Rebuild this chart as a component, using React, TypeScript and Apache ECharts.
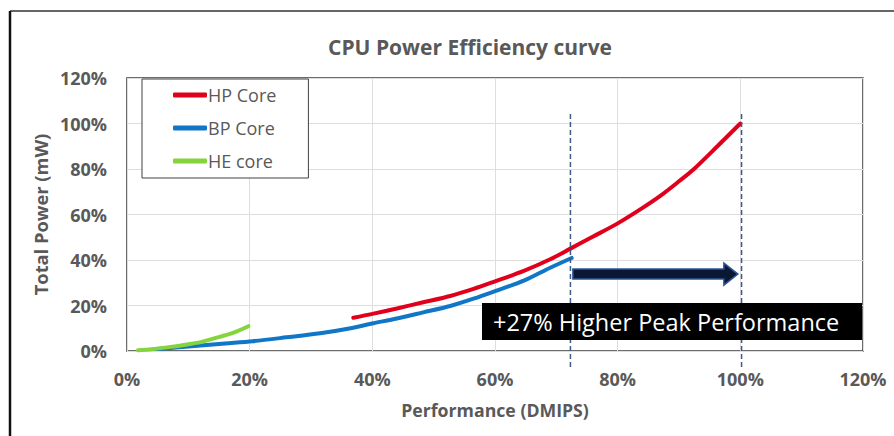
import React, { useEffect, useRef } from "react";
import * as echarts from "echarts";

const titleText = "CPU Power Efficiency curve";
const xTicks = { min: 0, max: 120, interval: 20 };
const yTicks = { min: 0, max: 120, interval: 20 };

const hpX = [36.9, 40, 44, 48.3, 52.7, 56.5, 60, 64.7, 69, 72.3, 76, 80, 84, 87, 90, 92.4, 96.3, 100];
const hpY = [14.6, 16.3, 18.7, 21.4, 24.2, 27.3, 30.6, 35.2, 40.3, 45.0, 50.3, 56.1, 62.8, 68.3, 74.6, 79.9, 90.1, 100];

const bpX = [5, 8, 12, 16, 20.5, 26, 31.5, 36, 40.2, 44, 48.3, 52.7, 56.5, 60, 64.7, 69, 72.5];
const bpY = [0.9, 1.5, 2.4, 3.3, 4.3, 6.0, 7.8, 9.8, 12.2, 14.3, 17.0, 19.8, 23.0, 26.3, 30.9, 36.6, 40.9];

const heX = [1.8, 4, 6.5, 9.8, 12, 15.2, 17.5, 19.8];
const heY = [0.3, 0.8, 1.6, 2.9, 3.9, 6.3, 8.2, 10.9];

const markerX = [72.3, 100.2];
const markerYRange = [-7, 104.6];

const arrowData = [[72.7, 99.6, 33.8]]; // x start, x tip, y
const calloutText = "+27% Higher Peak Performance";

const zip = (xs: number[], ys: number[]) => xs.map((x, i) => [x, ys[i]]);

export default function App() {
  const ref = useRef<HTMLDivElement>(null);
  useEffect(() => {
    if (!ref.current) return;
    const chart = echarts.init(ref.current, null, { renderer: "svg" });
    const gray = "#595959";
    const font = "'Open Sans', 'Noto Sans', sans-serif";
    const curve = (name: string, xs: number[], ys: number[], color: string) => ({
      name,
      type: "line",
      data: zip(xs, ys),
      smooth: 0.3,
      showSymbol: false,
      symbol: "none",
      lineStyle: { color, width: 4, cap: "round" },
      itemStyle: { color },
      z: 3,
    });
    const dashed = markerX.map((x, i) => ({
      name: "marker" + i,
      type: "line",
      data: [
        [x, markerYRange[0]],
        [x, markerYRange[1]],
      ],
      clip: false,
      symbol: "none",
      lineStyle: { color: "#3F5A86", width: 1.5, type: [5, 3] },
      z: 4,
      silent: true,
    }));
    chart.setOption({
      animation: false,
      backgroundColor: "#ffffff",
      title: {
        text: titleText,
        left: 465,
        top: 31,
        textAlign: "center",
        textStyle: { fontFamily: font, fontSize: 21, fontWeight: "bold", color: gray },
      },
      grid: {
        left: 127,
        right: 31,
        top: 78,
        bottom: 85,
        show: true,
        borderColor: "#3c3c3c",
        borderWidth: 1.5,
        backgroundColor: "transparent",
      },
      legend: {
        data: ["HP Core", "BP Core", "HE core"],
        orient: "vertical",
        left: 142,
        top: 79,
        padding: [6, 32, 7, 31],
        itemGap: 13,
        itemWidth: 34,
        itemHeight: 5,
        icon: "roundRect",
        backgroundColor: "#ffffff",
        borderColor: "#404040",
        borderWidth: 1,
        textStyle: { fontFamily: font, fontSize: 18, color: gray, lineHeight: 20, padding: [0, 0, 0, -4] },
      },
      xAxis: {
        type: "value",
        min: xTicks.min,
        max: xTicks.max,
        interval: xTicks.interval,
        name: "Performance (DMIPS)",
        nameLocation: "middle",
        nameGap: 50,
        nameTextStyle: { fontFamily: font, fontSize: 17.7, fontWeight: "bold", color: gray },
        axisLine: { show: false },
        axisTick: { show: false },
        axisLabel: { formatter: "{value}%", fontFamily: font, fontSize: 18, fontWeight: "bold", color: gray, margin: 19 },
        splitLine: { show: true, lineStyle: { color: "#dedede", width: 1 } },
      },
      yAxis: {
        type: "value",
        min: yTicks.min,
        max: yTicks.max,
        interval: yTicks.interval,
        name: "Total Power (mW)",
        nameLocation: "middle",
        nameGap: 74,
        nameTextStyle: { fontFamily: font, fontSize: 18.3, fontWeight: "bold", color: gray },
        axisLine: { show: false },
        axisTick: { show: false },
        axisLabel: { formatter: "{value}%", fontFamily: font, fontSize: 18, fontWeight: "bold", color: gray, margin: 20 },
        splitLine: { show: true, lineStyle: { color: "#dedede", width: 1 } },
      },
      series: [
        curve("HP Core", hpX, hpY, "#E0001B"),
        curve("BP Core", bpX, bpY, "#0F76C8"),
        curve("HE core", heX, heY, "#84D43E"),
        ...dashed,
        {
          name: "arrow",
          type: "custom",
          data: arrowData,
          clip: false,
          z: 5,
          silent: true,
          renderItem: (params: any, api: any) => {
            const p0 = api.coord([api.value(0), api.value(2)]);
            const p1 = api.coord([api.value(1), api.value(2)]);
            const half = 5;
            const headLen = 14;
            const headHalf = 11;
            const y = p0[1];
            const xb = p1[0] - headLen;
            return {
              type: "polygon",
              shape: {
                points: [
                  [p0[0], y - half],
                  [xb, y - half],
                  [xb, y - headHalf],
                  [p1[0], y],
                  [xb, y + headHalf],
                  [xb, y + half],
                  [p0[0], y + half],
                ],
              },
              style: { fill: "#0B1833", stroke: "#2E5597", lineWidth: 1.5 },
            };
          },
        },
      ],
      graphic: [
        { type: "line", shape: { x1: 10, y1: 11, x2: 894, y2: 11 }, style: { stroke: "#333", lineWidth: 1.5 }, z: 100 },
        { type: "line", shape: { x1: 10, y1: 11, x2: 10, y2: 436 }, style: { stroke: "#111", lineWidth: 2.5 }, z: 100 },
        {
          type: "group",
          left: 482,
          top: 303,
          z: 100,
          children: [
            { type: "rect", shape: { x: 0, y: 0, width: 380, height: 37 }, style: { fill: "#000000" }, z: 100 },
            {
              type: "text",
              x: 11,
              y: 19,
              z: 101,
              style: {
                text: calloutText,
                fill: "#ffffff",
                font: "23.5px 'Open Sans', 'Noto Sans', sans-serif",
                textVerticalAlign: "middle",
                verticalAlign: "middle",
              },
            },
          ],
        },
      ],
    });
    return () => chart.dispose();
  }, []);
  return <div ref={ref} style={{ position: "fixed", left: 0, top: 0, width: 894, height: 436 }} />;
}
